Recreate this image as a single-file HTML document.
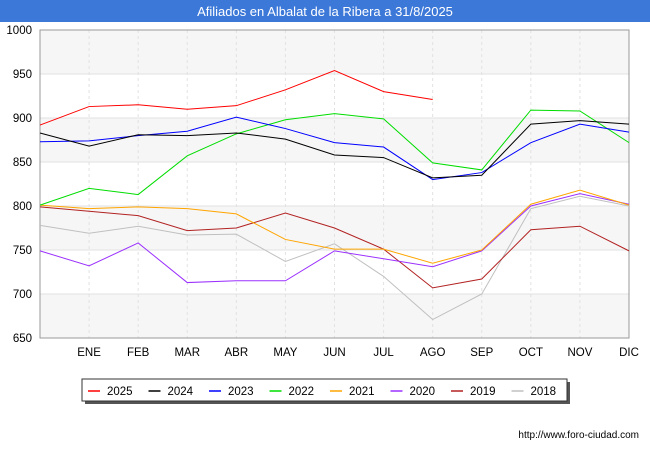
<!DOCTYPE html>
<html><head><meta charset="utf-8"><style>
body{margin:0;background:#fff;font-family:"Liberation Sans",sans-serif}
svg text{font-family:"Liberation Sans",sans-serif}
</style></head><body>
<svg id="c" width="650" height="450">
<rect x="0" y="0" width="650" height="22" fill="#3c78d8"/>
<text x="325" y="16" text-anchor="middle" fill="#fff" font-size="13">Afiliados en Albalat de la Ribera a 31/8/2025</text>
<g id="plot"></g>
<g id="legend"></g>
<text x="639" y="438" text-anchor="end" font-size="10" fill="#000">http://www.foro-ciudad.com</text>
</svg>
<script>
const months=["","ENE","FEB","MAR","ABR","MAY","JUN","JUL","AGO","SEP","OCT","NOV","DIC"];
const yTicks=[650,700,750,800,850,900,950,1000];
const seriesNames=["2025","2024","2023","2022","2021","2020","2019","2018"];
const seriesColors=["#ff0000","#000000","#0000ff","#00dd00","#ffa500","#9b30ff","#b22222","#c0c0c0"];
const s2025=[892,913,915,910,914,932,954,930,921];
const s2024=[883,868,881,880,883,876,858,855,832,835,893,897,893];
const s2023=[873,874,880,885,901,888,872,867,830,838,872,893,884];
const s2022=[801,820,813,857,882,898,905,899,849,841,909,908,872];
const s2021=[801,797,799,797,791,762,751,751,735,750,802,818,801];
const s2020=[749,732,758,713,715,715,749,740,731,749,800,814,802];
const s2019=[799,794,789,772,775,792,775,751,707,717,773,777,749];
const s2018=[778,769,777,767,768,737,757,720,671,700,797,811,800];
const allSeries=[s2025,s2024,s2023,s2022,s2021,s2020,s2019,s2018];
const NS="http://www.w3.org/2000/svg";
const X0=40,X1=629,Y0=30,Y1=338;
const x=i=>X0+(X1-X0)*i/12;
const y=v=>Y1-(v-650)/350*(Y1-Y0);
function mk(t,a,p){const e=document.createElementNS(NS,t);for(const k in a)e.setAttribute(k,a[k]);p.appendChild(e);return e;}
const plot=document.getElementById('plot');
for(let i=0;i<yTicks.length-1;i++){
  if(i%2==0){const r=mk('rect',{x:X0,y:y(yTicks[i+1]),width:X1-X0,height:y(yTicks[i])-y(yTicks[i+1]),fill:'#f6f6f6'},plot);
  
  }
}
yTicks.forEach(v=>{
  const l=mk('line',{x1:X0,x2:X1,y1:y(v),y2:y(v),stroke:'#e2e2e2'},plot);
  
  
  const t=mk('text',{x:X0-8,y:y(v)+4,'text-anchor':'end','font-size':'11.5',fill:'#000'},plot);t.textContent=v;
  
  
});
months.forEach((m,i)=>{
  if(i>0){const l=mk('line',{x1:x(i),x2:x(i),y1:Y0,y2:Y1,stroke:'#e2e2e2','stroke-dasharray':'3,3'},plot);
  
  }
  const t=mk('text',{x:x(i),y:356,'text-anchor':'middle','font-size':'11.5',fill:'#000'},plot);t.textContent=m;
  
  
});
const ax=mk('rect',{x:X0,y:Y0,width:X1-X0,height:Y1-Y0,fill:'none',stroke:'#999'},plot);


for(let s=allSeries.length-1;s>=0;s--){
  const pts=allSeries[s].map((v,i)=>x(i)+','+y(v)).join(' ');
  const p=mk('polyline',{points:pts,fill:'none',stroke:seriesColors[s],'stroke-width':1},plot);
  
  
}
const lg=document.getElementById('legend');
const sh=mk('rect',{x:85,y:382,width:485,height:22,fill:'#555'},lg);


const box=mk('rect',{x:82,y:379,width:485,height:22,fill:'#fff',stroke:'#333'},lg);


seriesNames.forEach((n,i)=>{
  const bx=88+i*60.5;
  const l=mk('line',{x1:bx,x2:bx+12,y1:391,y2:391,stroke:seriesColors[i],'stroke-width':1.5},lg);
  
  
  const t=mk('text',{x:bx+19,y:395,'font-size':'11.5',fill:'#000'},lg);t.textContent=n;
  
  
});
</script>
</body></html>
